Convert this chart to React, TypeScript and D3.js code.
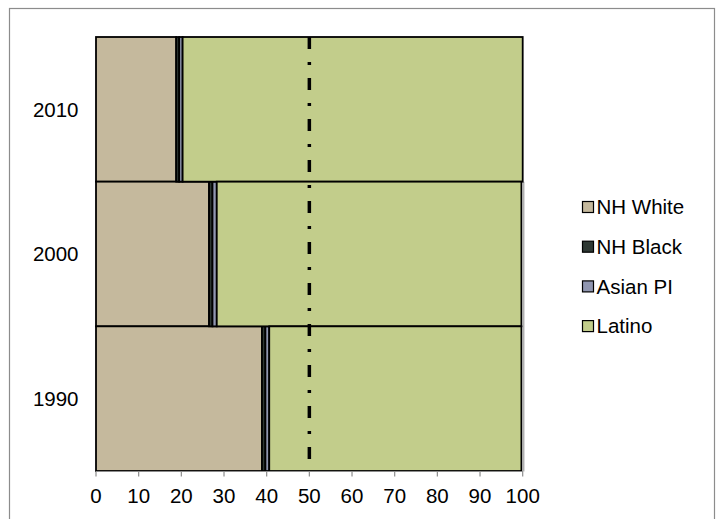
import React from "react";
import * as d3 from "d3";

const years = ["2010", "2000", "1990"];
const nhWhite = [18.8, 26.5, 38.9];
const nhBlack = [0.7, 0.8, 0.8];
const asianPI = [0.8, 1.0, 0.9];
const latino = [79.7, 71.4, 59.1];
const seriesNames = ["NH White", "NH Black", "Asian PI", "Latino"];
const seriesColors = ["#C5B99D", "#2E3833", "#9096B0", "#C2CD8B"];
const xTicks = [0, 10, 20, 30, 40, 50, 60, 70, 80, 90, 100];
const refValue = 50;

const W = 719;
const H = 519;
const FONT = "Liberation Sans, Arial, sans-serif";
const FS = 20.5;

export default function App() {
  const x = d3.scaleLinear().domain([0, 100]).range([96, 522.7]);
  const y = d3.scaleBand<string>().domain(years).range([37, 471]).padding(0);

  const rows = years.map((yr, i) => ({
    year: yr,
    vals: [nhWhite[i], nhBlack[i], asianPI[i], latino[i]],
  }));

  const stackGen = d3
    .stack<any>()
    .keys(["0", "1", "2", "3"])
    .value((d: any, k: string) => d.vals[+k]);
  const stacked = stackGen(rows as any);

  const axisY = 471.5;

  return (
    <svg
      width={W}
      height={H}
      style={{ position: "absolute", left: 0, top: 0, background: "#fff" }}
      fontFamily={FONT}
    >
      <rect x={0} y={0} width={W} height={H} fill="#fff" />
      <rect x={9.5} y={8.5} width={705} height={540} fill="#fff" stroke="#8c8c8c" strokeWidth={1.2} />

      {/* right boundary line */}
      <line x1={x(100) + 1} x2={x(100) + 1} y1={y("2000")!} y2={axisY} stroke="#b0b0b0" strokeWidth={1.5} />

      {/* bars */}
      {stacked.map((layer, si) =>
        layer.map((seg: any, ri: number) => (
          <rect
            key={`${si}-${ri}`}
            x={x(seg[0])}
            y={y(rows[ri].year)!}
            width={x(seg[1]) - x(seg[0])}
            height={y.bandwidth()}
            fill={seriesColors[si]}
            stroke="#000"
            strokeWidth={1.8}
          />
        ))
      )}

      {/* x axis */}
      <line x1={x(0)} x2={x(100)} y1={axisY} y2={axisY} stroke="#8c8c8c" strokeWidth={1.2} />
      {xTicks.map((t) => (
        <g key={t}>
          <line x1={x(t)} x2={x(t)} y1={axisY} y2={axisY + 5} stroke="#8c8c8c" strokeWidth={1.2} />
          <text x={x(t)} y={502.5} textAnchor="middle" fontSize={FS} fill="#000">
            {t}
          </text>
        </g>
      ))}

      {/* y labels */}
      {years.map((yr) => (
        <text
          key={yr}
          x={78.5}
          y={y(yr)! + y.bandwidth() / 2}
          dy="0.35em"
          textAnchor="end"
          fontSize={FS}
          fill="#000"
        >
          {yr}
        </text>
      ))}

      {/* reference dash-dot line */}
      <line
        x1={x(refValue)}
        x2={x(refValue)}
        y1={37}
        y2={471}
        stroke="#000"
        strokeWidth={3.5}
        strokeDasharray="12,13,3,13"
      />

      {/* legend */}
      {seriesNames.map((name, i) => {
        const cy = 207 + i * 39.7;
        return (
          <g key={name}>
            <rect x={582.5} y={cy - 5.5} width={11} height={11} fill={seriesColors[i]} stroke="#000" strokeWidth={1.2} />
            <text x={596.5} y={cy} dy="0.36em" fontSize={FS} fill="#000">
              {name}
            </text>
          </g>
        );
      })}
    </svg>
  );
}
